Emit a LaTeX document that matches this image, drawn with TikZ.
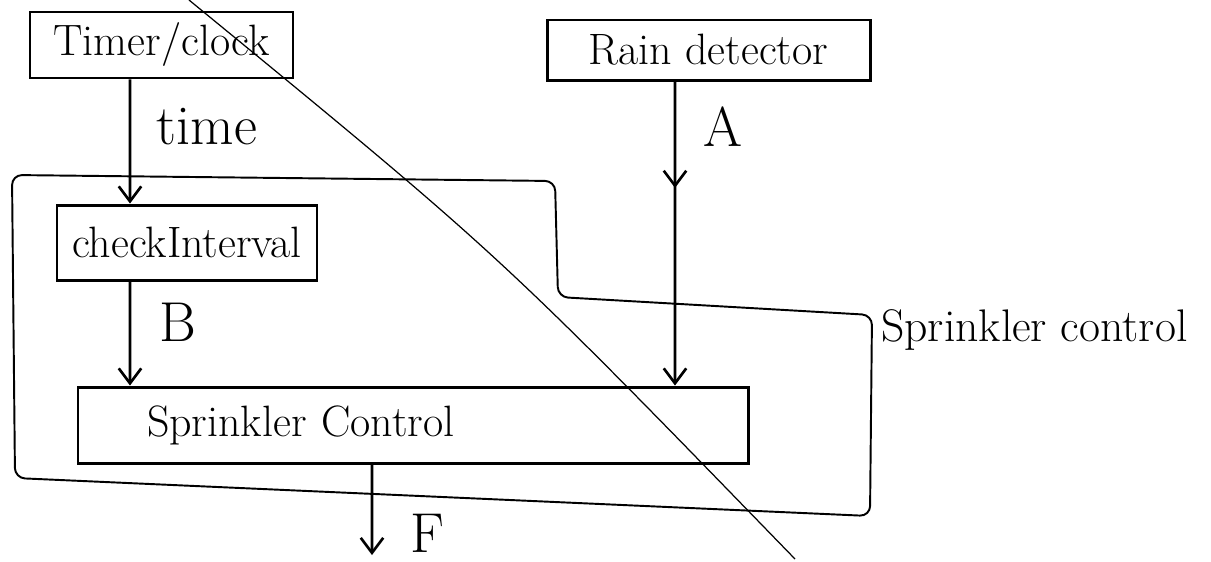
\documentclass[tikz,border=0pt]{standalone}
\usepackage{fontspec}
\usetikzlibrary{arrows.meta,decorations.markings}
\begin{document}
\begin{tikzpicture}[>={Straight Barb[length=3mm,width=4.5mm]},
    every node/.style={font=\fontsize{25}{30}\selectfont},
    blk/.style={draw,line width=1.7pt,inner sep=0pt},
    lbl/.style={font=\fontsize{32}{36}\selectfont},
    flow/.style={->,line width=1.5pt},
    midarrow/.style={decoration={markings,mark=at position #1 with {\arrow{>}}},postaction={decorate}}]
    \useasboundingbox (0,0) rectangle (24.22,-11.22);
    \node[blk,minimum width=5.26cm,minimum height=1.32cm] (timer) at (3.23,-0.9) {Timer/clock};
    \node[blk,minimum width=6.46cm,minimum height=1.2cm] (rain) at (14.17,-1.0) {Rain detector};
    \node[blk,minimum width=5.2cm,minimum height=1.5cm] (check) at (3.74,-4.85) {checkInterval};
    \node[blk,minimum height=1.52cm,text width=10.64cm,inner xsep=1.38cm,align=left] (ctrl) at (8.26,-8.5) {Sprinkler Control};
    \coordinate (out) at (7.44,-11.1);
    \draw[line width=1.1pt,rounded corners=0.2cm] (0.24,-3.5) -- (11.1,-3.62) -- (11.16,-5.94) -- (17.44,-6.3) -- (17.4,-10.32) -- (0.3,-9.56) -- cycle;
    \node[right,font=\fontsize{26}{30}\selectfont] (grp) at (17.5,-6.6) {Sprinkler control};
    \draw[flow] ([xshift=-0.63cm]timer.south) -- ([xshift=-1.14cm]check.north);
    \draw[flow,midarrow=0.35] ([xshift=-0.67cm]rain.south) -- ([xshift=5.24cm]ctrl.north);
    \draw[flow] ([xshift=-1.14cm]check.south) -- ([xshift=-5.66cm]ctrl.north);
    \draw[flow] ([xshift=-0.82cm]ctrl.south) -- (out);
    \node[lbl] (time) at (4.14,-2.54) {time};
    \node[lbl] (a) at (14.46,-2.54) {A};
    \node[lbl] (b) at (3.56,-6.44) {B};
    \node[lbl] (f) at (8.54,-10.66) {F};
    \draw[line width=0.7pt] (3.78,0) .. controls (10,-5.1) .. (15.9,-11.18);
\end{tikzpicture}
\end{document}
